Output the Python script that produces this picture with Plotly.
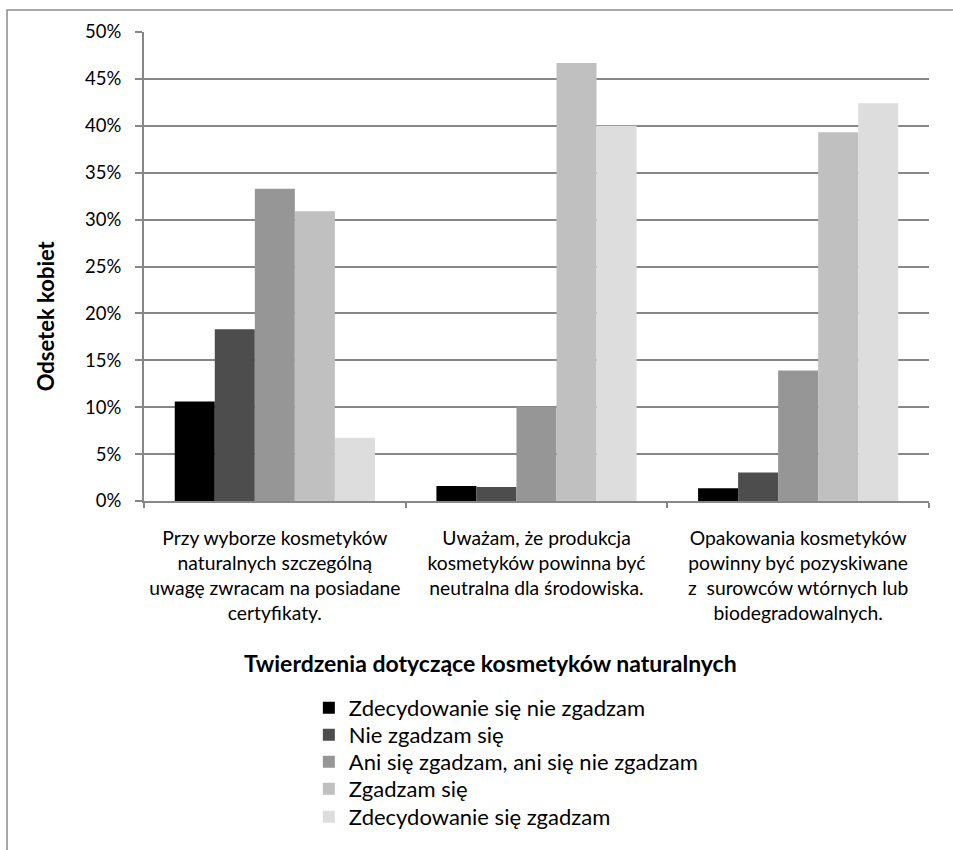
import plotly.graph_objects as go

categories = [
    "Przy wyborze kosmetyków<br>naturalnych szczególną<br>uwagę zwracam na posiadane<br>certyfikaty.",
    "Uważam, że produkcja<br>kosmetyków powinna być<br>neutralna dla środowiska.",
    "Opakowania kosmetyków<br>powinny być pozyskiwane<br>z  surowców wtórnych lub<br>biodegradowalnych.",
]
series_names = [
    "Zdecydowanie się nie zgadzam",
    "Nie zgadzam się",
    "Ani się zgadzam, ani się nie zgadzam",
    "Zgadzam się",
    "Zdecydowanie się zgadzam",
]
strongly_disagree = [10.6, 1.6, 1.35]
disagree = [18.3, 1.5, 3.05]
neutral = [33.3, 10.05, 13.9]
agree = [30.9, 46.7, 39.3]
strongly_agree = [6.75, 40.0, 42.4]
series_values = [strongly_disagree, disagree, neutral, agree, strongly_agree]
colors = ["#000000", "#4d4d4d", "#969696", "#c0c0c0", "#dddddd"]
y_ticks = [0, 5, 10, 15, 20, 25, 30, 35, 40, 45, 50]

FONT = "Lato, 'Open Sans', sans-serif"
GRID = "#878787"

# one single-entry legend per series so each row sits on its own line
legend_rows = [-0.4414, -0.4989, -0.5565, -0.6141, -0.6738]
legend_ids = ["legend", "legend2", "legend3", "legend4", "legend5"]

fig = go.Figure()
for name, vals, col, lid in zip(series_names, series_values, colors, legend_ids):
    fig.add_trace(go.Bar(
        x=categories, y=vals, name=name, legend=lid,
        marker=dict(color=col, line=dict(width=0)),
    ))

legend_layout = {}
for lid, ly in zip(legend_ids, legend_rows):
    legend_layout[lid] = dict(
        x=0.21, y=ly, xanchor="left", yanchor="middle",
        font=dict(size=22, family=FONT, color="#000000"),
        itemwidth=30, bgcolor="rgba(0,0,0,0)", borderwidth=0,
    )

fig.update_layout(
    width=953, height=850,
    margin=dict(l=144, r=24, t=32, b=349, autoexpand=False),
    paper_bgcolor="white", plot_bgcolor="white",
    barmode="group", bargap=0.235, bargroupgap=0,
    font=dict(family=FONT, color="#000000", size=18),
    showlegend=True,
    xaxis=dict(
        type="category", tickson="boundaries", ticks="outside", ticklen=5,
        tickcolor=GRID, tickwidth=1.5, showline=True, linecolor=GRID, linewidth=2,
        showgrid=False, tickfont=dict(size=19.3, family=FONT), tickangle=0,
        ticklabelstandoff=19, automargin=False,
    ),
    yaxis=dict(
        range=[0, 50], tickvals=y_ticks, ticktext=[f"{v}%" for v in y_ticks],
        ticks="outside", ticklen=7, tickcolor=GRID, tickwidth=1.5,
        showline=True, linecolor=GRID, linewidth=2,
        showgrid=True, gridcolor=GRID, gridwidth=1.5, zeroline=False,
        tickfont=dict(size=18.5, family=FONT), ticklabelstandoff=10,
        automargin=False,
    ),
    annotations=[
        dict(
            text="<b>Odsetek kobiet</b>", textangle=-90,
            xref="paper", yref="paper", x=-0.126, y=0.394,
            xanchor="center", yanchor="middle", showarrow=False,
            font=dict(size=22, family=FONT),
        ),
        dict(
            text="<b>Twierdzenia dotyczące kosmetyków naturalnych</b>",
            xref="paper", yref="paper", x=0.4408, y=-0.3454,
            xanchor="center", yanchor="middle", showarrow=False,
            font=dict(size=23, family=FONT),
        ),
    ],
    shapes=[dict(
        type="rect", xref="paper", yref="paper",
        x0=-0.1745, x1=1.05, y0=-0.78, y1=1.0469,
        line=dict(color="#8c8c8c", width=1.5), layer="below",
    )],
    **legend_layout,
)

fig.write_html("out.html")
